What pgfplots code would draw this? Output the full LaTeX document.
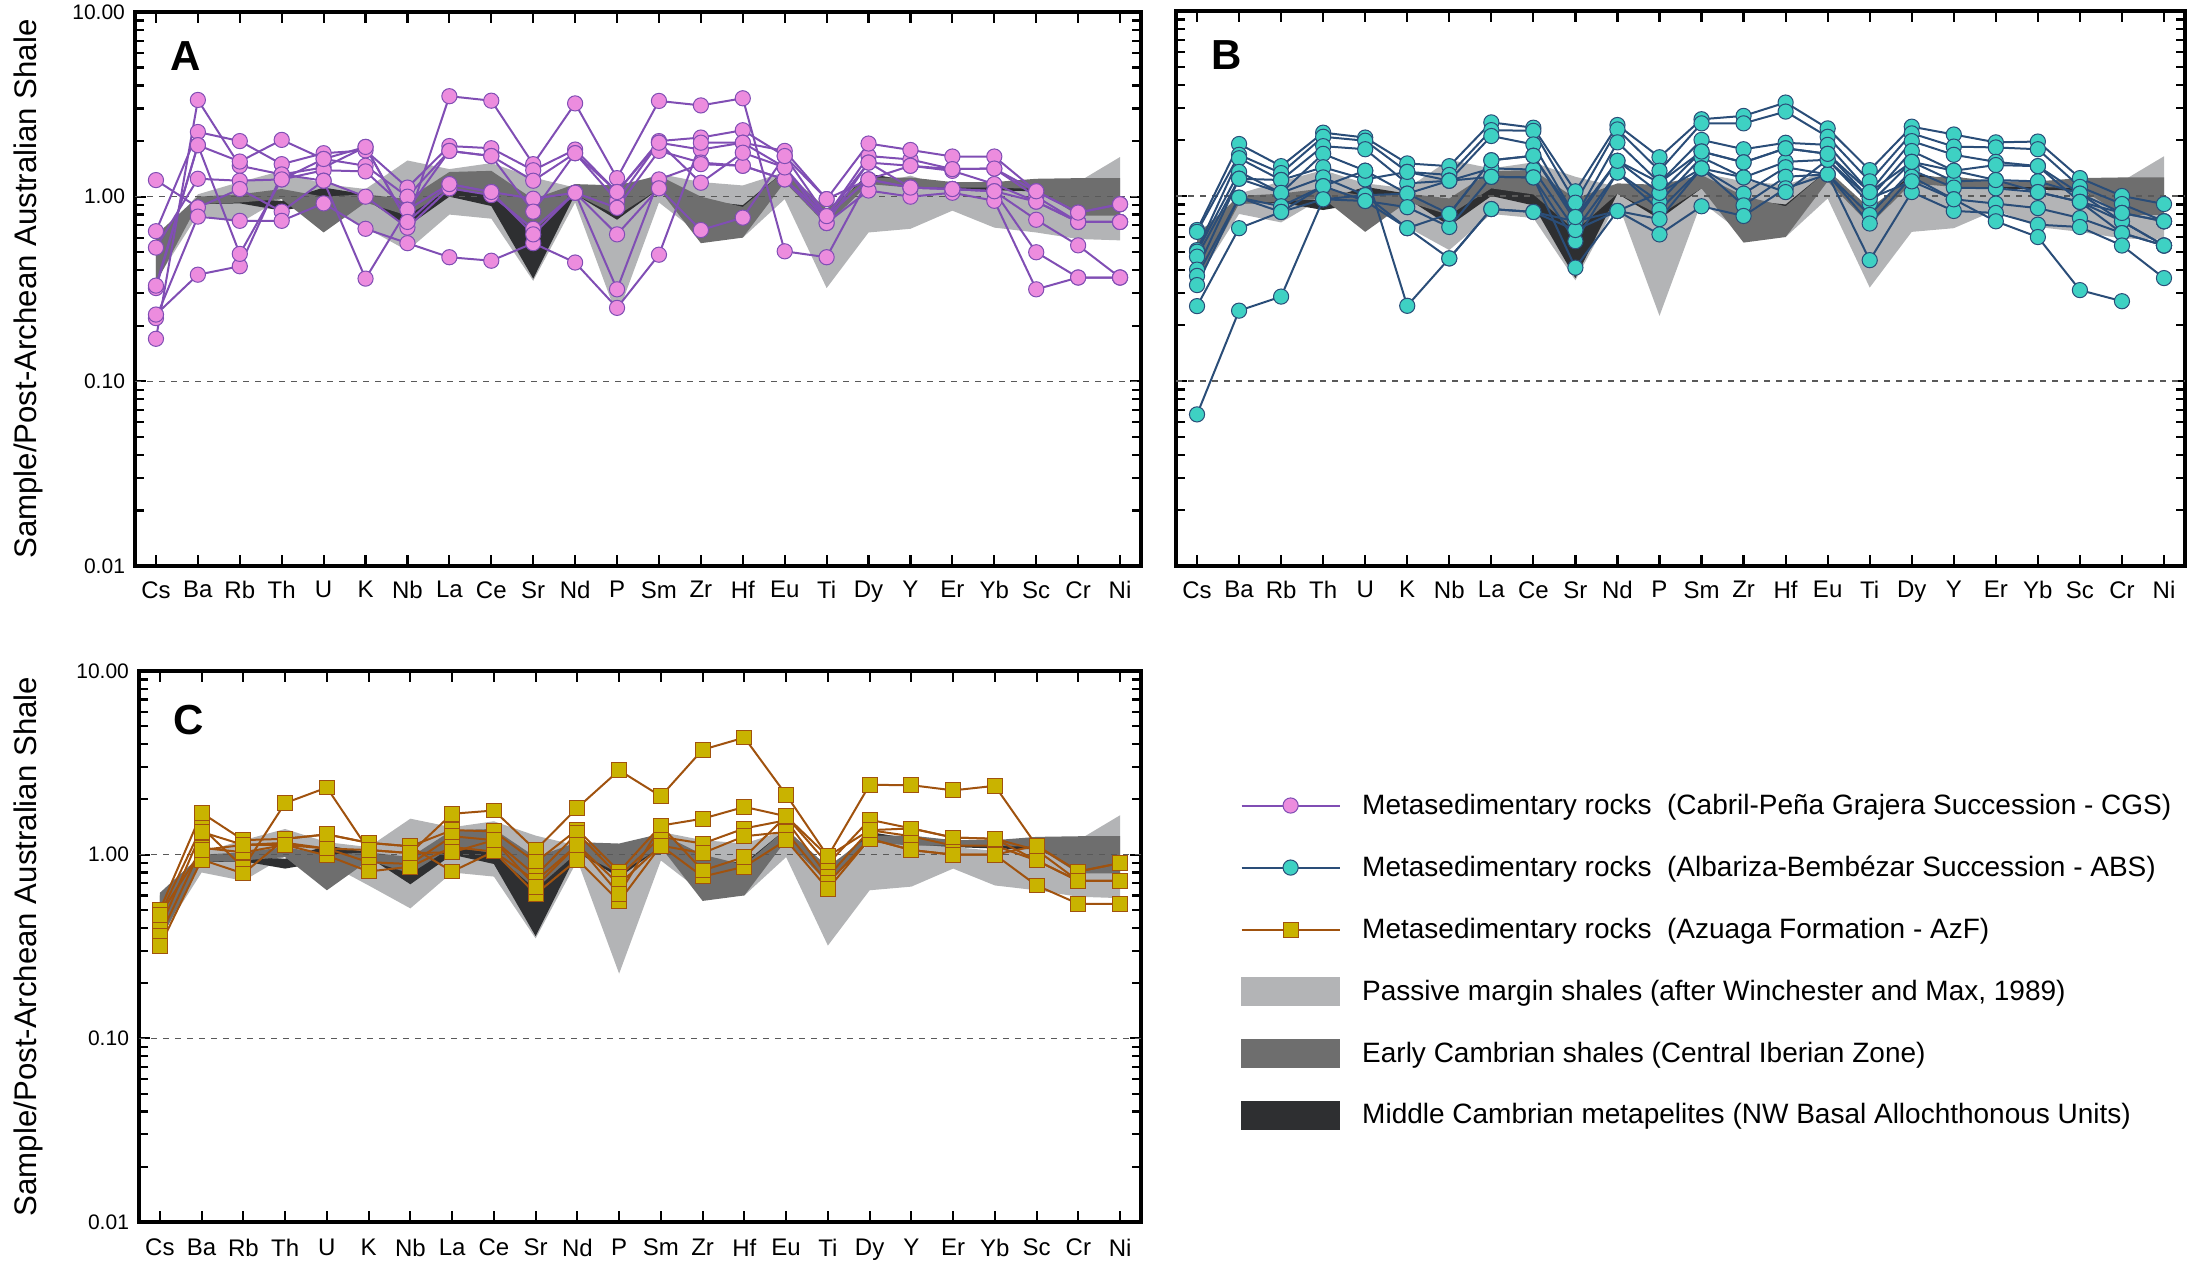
\documentclass[border=0pt]{standalone}
\usepackage{fontspec}
\setmainfont{Liberation Sans}
\usepackage{pgfplots}
\usepackage{pgfplotstable}
\pgfplotsset{compat=1.18}

\definecolor{cgsline}{HTML}{804EB4}
\definecolor{cgsfill}{HTML}{EC8CDE}
\definecolor{absline}{HTML}{2A4D78}
\definecolor{absfill}{HTML}{3ED1C3}
\definecolor{azfline}{HTML}{A0520E}
\definecolor{azffill}{HTML}{C9B300}
\definecolor{lgray}{HTML}{B3B4B6}
\definecolor{dgray}{HTML}{6E6E6E}
\definecolor{bband}{HTML}{2E2F31}

\pgfplotstableread{
x y
0 0.55
1 1.03
2 1.2
3 1.38
4 1.17
5 1.1
6 1.57
7 1.41
8 1.52
9 1.27
10 1.12
11 1.08
12 1.33
13 1.2
14 1.15
15 1.36
16 0.75
17 1.15
18 1.3
19 1.1
20 1.05
21 1.15
22 1.2
23 1.64
23 0.58
22 0.59
21 0.64
20 0.68
19 0.84
18 0.67
17 0.64
16 0.32
15 0.97
14 0.60
13 0.62
12 0.93
11 0.225
10 0.93
9 0.35
8 0.76
7 0.80
6 0.51
5 0.68
4 0.9
3 0.98
2 0.72
1 0.80
0 0.35
}\lighttab

\pgfplotstableread{
x y
0 0.62
1 1.0
2 1.03
3 1.1
4 1.0
5 1.03
6 0.97
7 1.36
8 1.38
9 0.97
10 1.17
11 1.15
12 1.3
13 1.0
14 0.88
15 1.38
16 0.86
17 1.27
18 1.27
19 1.2
20 1.2
21 1.25
22 1.26
23 1.26
23 0.79
22 0.79
21 1.1
20 1.12
19 1.12
18 1.12
17 1.17
16 0.70
15 1.2
14 0.6
13 0.56
12 1.1
11 0.79
10 1.03
9 0.65
8 1.02
7 1.1
6 0.79
5 0.93
4 0.64
3 0.97
2 0.93
1 0.91
0 0.34
}\darktab

\pgfplotstableread{
x y
0 0.60
1 0.97
2 0.97
3 0.95
4 1.12
5 1.03
6 0.86
7 1.12
8 1.03
9 0.66
10 1.1
11 0.89
12 1.2
13 0.95
14 0.9
15 1.38
16 0.82
17 1.33
18 1.22
19 1.16
20 1.15
21 1.15
22 0.92
23 0.92
23 0.85
22 0.85
21 1.07
20 1.08
19 1.1
18 1.14
17 1.25
16 0.74
15 1.28
14 0.8
13 0.85
12 1.1
11 0.75
10 1.03
9 0.36
8 0.89
7 1.0
6 0.69
5 0.97
4 0.92
3 0.84
2 0.92
1 0.91
0 0.50
}\blacktab

\pgfplotstableread{
x a1 a2 a3 a4 a5 a6 a7 a8
0 0.17 0.65 0.32 0.53 1.23 0.22 0.23 0.33
1 3.34 2.24 1.9 1.25 0.875 0.78 0.378 1.9
2 1.47 2.0 1.55 1.22 1.1 0.74 0.42 0.49
3 1.32 1.5 2.03 1.24 0.83 0.74 1.32 1.24
4 1.44 1.72 1.6 1.39 1.22 0.92 1.22 1.6
5 1.86 1.78 1.47 1.37 1.0 0.67 0.36 1.86
6 0.73 1.12 1.0 0.85 0.68 0.56 0.85 0.73
7 3.5 1.88 1.77 1.17 1.11 0.47 1.77 1.17
8 3.31 1.83 1.66 1.06 1.02 0.45 1.66 1.06
9 1.5 1.39 1.22 0.975 0.67 0.56 0.83 0.625
10 3.2 1.8 1.72 1.05 1.05 0.44 1.72 1.05
11 1.26 1.06 0.95 0.87 0.315 0.25 1.06 0.625
12 3.3 2.0 1.96 1.77 1.24 0.485 1.96 1.11
13 3.12 2.09 1.8 1.53 1.5 1.96 1.19 0.66
14 3.41 2.29 1.96 1.47 1.47 1.96 1.73 0.77
15 0.506 1.66 1.44 1.24 1.24 1.77 1.44 1.66
16 0.47 0.785 0.72 0.785 0.72 0.97 0.785 0.97
17 1.24 1.66 1.53 1.24 1.08 1.94 1.53 1.24
18 1.12 1.59 1.47 1.12 1.0 1.79 1.12 1.47
19 1.1 1.41 1.38 1.1 1.05 1.65 1.1 1.41
20 1.07 1.42 1.17 1.07 0.95 1.65 1.07 1.42
21 0.5 1.0 0.94 0.75 0.315 1.07 0.94 1.07
22 0.365 0.73 0.73 0.545 0.365 0.82 0.73 0.82
23 0.365 0.73 0.73 0.365 0.365 0.91 0.73 0.91
}\tabA

\pgfplotstableread{
x b1 b2 b3 b4 b5 b6 b7 b8 b9 b10
0 0.655 0.64 0.51 0.5 0.47 0.40 0.37 0.33 0.254 0.066
1 1.91 1.67 1.6 1.35 1.24 1.24 0.98 0.98 0.67 0.24
2 1.45 1.33 1.22 1.04 1.22 1.04 0.88 0.82 0.82 0.286
3 2.2 2.09 1.86 1.69 1.43 1.26 1.13 0.96 1.13 0.96
4 2.07 1.99 1.79 1.37 1.23 1.01 0.94 1.01 1.37 0.94
5 1.5 1.35 1.17 1.03 1.35 1.03 0.87 0.67 0.255 0.67
6 1.45 1.3 1.21 0.80 1.21 1.21 0.68 0.46 0.46 0.80
7 2.5 2.27 2.11 1.56 1.41 1.27 1.27 0.85 0.85 1.56
8 2.34 2.25 1.9 1.65 1.39 1.26 1.26 0.82 0.82 1.65
9 1.06 0.92 0.77 0.73 0.655 0.57 0.41 0.73 0.655 0.77
10 2.42 2.29 1.95 1.55 1.34 1.34 0.83 0.83 0.83 1.55
11 1.62 1.37 1.18 1.04 0.93 0.84 0.75 0.62 1.04 1.18
12 2.6 2.47 2.01 1.74 1.62 1.41 1.41 0.88 1.41 1.74
13 2.71 2.47 1.79 1.52 1.26 1.03 0.89 0.78 1.26 1.52
14 3.2 2.86 1.94 1.81 1.53 1.43 1.27 1.1 1.05 1.81
15 2.32 2.09 1.89 1.69 1.57 1.31 1.31 1.31 1.57 1.69
16 1.38 1.2 1.05 0.97 0.91 0.79 0.71 0.45 0.97 1.05
17 2.37 2.18 1.98 1.75 1.53 1.38 1.27 1.05 1.2 1.53
18 2.15 1.85 1.67 1.37 1.2 1.11 0.96 0.83 0.96 1.37
19 1.95 1.83 1.53 1.47 1.22 1.1 0.91 0.81 0.73 1.22
20 1.97 1.79 1.45 1.45 1.2 1.05 0.86 0.7 0.6 1.05
21 1.25 1.12 1.03 0.93 1.03 0.93 0.76 0.68 0.31 0.93
22 1.0 0.905 0.81 0.73 0.73 0.63 0.63 0.54 0.27 0.81
23 0.905 0.73 0.73 0.54 0.54 0.54 0.54 0.36 nan 0.73
}\tabB

\pgfplotstableread{
x c1 c2 c3 c4 c5 c6
0 0.47 0.5 0.395 0.36 0.317 0.47
1 1.41 1.69 1.33 1.09 0.94 1.06
2 0.85 1.2 1.13 1.03 0.79 1.13
3 1.91 1.22 1.16 1.13 1.22 1.13
4 2.32 1.29 1.08 0.99 1.29 1.08
5 1.06 1.16 0.91 0.81 1.16 1.06
6 1.02 1.11 0.89 0.86 1.11 1.02
7 1.67 1.36 1.26 1.1 0.81 1.03
8 1.74 1.34 1.2 1.04 1.04 1.2
9 1.06 0.91 0.77 0.72 0.61 0.67
10 1.8 1.37 1.31 1.13 0.94 1.13
11 2.88 0.81 0.76 0.69 0.557 0.61
12 2.08 1.44 1.25 1.12 1.12 1.44
13 3.73 1.57 1.15 1.02 0.76 0.82
14 4.34 1.82 1.39 1.26 0.86 0.97
15 2.12 1.62 1.54 1.33 1.2 1.62
16 0.98 0.89 0.76 0.7 0.65 0.98
17 2.4 1.55 1.36 1.22 1.22 1.36
18 2.39 1.39 1.26 1.06 1.06 1.39
19 2.24 1.24 1.12 1.0 1.0 1.24
20 2.37 1.22 1.12 1.0 1.0 1.22
21 1.12 1.06 0.93 0.68 1.12 0.93
22 0.81 0.72 0.72 0.54 0.81 0.72
23 0.9 0.72 0.72 0.54 0.9 0.72
}\tabC

\pgfplotsset{
  every axis/.append style={
    scale only axis, ymode=log, ymin=0.01, ymax=10, xmin=-0.5, xmax=23.5,
    xtick={0,...,23},
    xticklabels={Cs,Ba,Rb,Th,U,K,Nb,La,Ce,Sr,Nd,P,Sm,Zr,Hf,Eu,Ti,Dy,Y,Er,Yb,Sc,Cr,Ni},
    ytick={0.01,0.1,1,10},
    minor ytick={0.02,0.03,0.04,0.05,0.06,0.07,0.08,0.09,0.2,0.3,0.4,0.5,0.6,0.7,0.8,0.9,2,3,4,5,6,7,8,9},
    tick align=inside, xtick pos=both, ytick pos=both,
    axis line style={line width=1.6pt},
    major tick style={line width=1.1pt, black},
    minor tick style={line width=1.1pt, black},
    major tick length=5.5pt, minor tick length=4.5pt,
    x tick label style={font=\fontsize{12}{14}\selectfont, yshift=-4.2pt},
    y tick label style={font=\fontsize{10.5}{12}\selectfont, xshift=-1.5pt},
  },
  mycgs/.style={color=cgsline, line width=1pt, mark=*, mark size=3.8pt,
    mark options={fill=cgsfill, draw=cgsline, line width=0.5pt, solid}},
  myabs/.style={color=absline, line width=1pt, mark=*, mark size=3.8pt,
    mark options={fill=absfill, draw=absline, line width=0.5pt, solid}},
  myazf/.style={color=azfline, line width=1pt, mark=square*, mark size=3.7pt,
    mark options={fill=azffill, draw=azfline, line width=0.5pt, solid}},
  cgsleg/.style={legend image code/.code={\draw[cgsline, line width=1pt, mark=*, mark size=3.8pt, mark options={fill=cgsfill, draw=cgsline, line width=0.5pt}, mark repeat=2, mark phase=2] plot coordinates {(0pt,0pt) (24.5pt,0pt) (49pt,0pt)};}},
  absleg/.style={legend image code/.code={\draw[absline, line width=1pt, mark=*, mark size=3.8pt, mark options={fill=absfill, draw=absline, line width=0.5pt}, mark repeat=2, mark phase=2] plot coordinates {(0pt,0pt) (24.5pt,0pt) (49pt,0pt)};}},
  azfleg/.style={legend image code/.code={\draw[azfline, line width=1pt, mark=square*, mark size=3.7pt, mark options={fill=azffill, draw=azfline, line width=0.5pt}, mark repeat=2, mark phase=2] plot coordinates {(0pt,0pt) (24.5pt,0pt) (49pt,0pt)};}},
  lgleg/.style={legend image code/.code={\fill[lgray] (0pt,-7pt) rectangle (49pt,7pt);}},
  dgleg/.style={legend image code/.code={\fill[dgray] (0pt,-7pt) rectangle (49pt,7pt);}},
  bbleg/.style={legend image code/.code={\fill[bband] (0pt,-7pt) rectangle (49pt,7pt);}},
}

\begin{document}
\begin{tikzpicture}
\path[use as bounding box] (0,0) rectangle (1097pt,-631.5pt);

% Panel A
\begin{axis}[at={(67.5pt,-6pt)}, anchor=north west, width=503pt, height=277pt,
  yticklabels={0.01,0.10,1.00,10.00},
  ylabel={Sample/Post-Archean Australian Shale},
  ylabel style={at={(rel axis cs:0,0.5)}, anchor=center, yshift=53.5pt, font=\fontsize{15.6}{18}\selectfont}]
\addplot[fill=lgray, draw=none, forget plot] table[x=x,y=y] {\lighttab} -- cycle;
\addplot[fill=bband, draw=none, forget plot] table[x=x,y=y] {\blacktab} -- cycle;
\addplot[fill=dgray, draw=none, forget plot] table[x=x,y=y] {\darktab} -- cycle;
\addplot[forget plot, color=black!65, line width=0.6pt, dash pattern=on 3pt off 3pt] coordinates {(-0.5,1) (23.5,1)};
\addplot[forget plot, color=black!65, line width=0.6pt, dash pattern=on 3pt off 3pt] coordinates {(-0.5,0.1) (23.5,0.1)};
\addplot[mycgs, forget plot] table[x=x,y=a1] {\tabA};
\addplot[mycgs, forget plot] table[x=x,y=a2] {\tabA};
\addplot[mycgs, forget plot] table[x=x,y=a3] {\tabA};
\addplot[mycgs, forget plot] table[x=x,y=a4] {\tabA};
\addplot[mycgs, forget plot] table[x=x,y=a5] {\tabA};
\addplot[mycgs, forget plot] table[x=x,y=a6] {\tabA};
\addplot[mycgs, forget plot] table[x=x,y=a7] {\tabA};
\addplot[mycgs, forget plot] table[x=x,y=a8] {\tabA};
\node[font=\bfseries\fontsize{21}{24}\selectfont] at (rel axis cs:0.05,0.921) {A};
\end{axis}

% Panel B
\begin{axis}[at={(588pt,-5.5pt)}, anchor=north west, width=504.5pt, height=277.5pt,
  yticklabels={}]
\addplot[fill=lgray, draw=none, forget plot] table[x=x,y=y] {\lighttab} -- cycle;
\addplot[fill=bband, draw=none, forget plot] table[x=x,y=y] {\blacktab} -- cycle;
\addplot[fill=dgray, draw=none, forget plot] table[x=x,y=y] {\darktab} -- cycle;
\addplot[forget plot, color=black!65, line width=0.6pt, dash pattern=on 3pt off 3pt] coordinates {(-0.5,1) (23.5,1)};
\addplot[forget plot, color=black!65, line width=0.6pt, dash pattern=on 3pt off 3pt] coordinates {(-0.5,0.1) (23.5,0.1)};
\addplot[myabs, forget plot] table[x=x,y=b1] {\tabB};
\addplot[myabs, forget plot] table[x=x,y=b2] {\tabB};
\addplot[myabs, forget plot] table[x=x,y=b3] {\tabB};
\addplot[myabs, forget plot] table[x=x,y=b4] {\tabB};
\addplot[myabs, forget plot] table[x=x,y=b5] {\tabB};
\addplot[myabs, forget plot] table[x=x,y=b6] {\tabB};
\addplot[myabs, forget plot] table[x=x,y=b7] {\tabB};
\addplot[myabs, forget plot] table[x=x,y=b8] {\tabB};
\addplot[myabs, forget plot] table[x=x,y=b9] {\tabB};
\addplot[myabs, forget plot] table[x=x,y=b10] {\tabB};
\node[font=\bfseries\fontsize{21}{24}\selectfont] at (rel axis cs:0.05,0.921) {B};
\end{axis}

% Panel C
\begin{axis}[at={(69.5pt,-335.5pt)}, anchor=north west, width=501pt, height=275.5pt,
  yticklabels={0.01,0.10,1.00,10.00},
  x tick label style={yshift=-0.6pt},
  ylabel={Sample/Post-Archean Australian Shale},
  ylabel style={at={(rel axis cs:0,0.5)}, anchor=center, yshift=55.5pt, font=\fontsize{15.6}{18}\selectfont},
  legend cell align=left,
  legend style={at={(rel axis cs:1.099,0.785)}, anchor=north west, draw=none, fill=none,
    inner sep=0pt, row sep=15.3pt, font=\fontsize{14}{16}\selectfont,
    /tikz/every odd column/.append style={column sep=8.8pt}}]
\addplot[fill=lgray, draw=none, forget plot] table[x=x,y=y] {\lighttab} -- cycle;
\addplot[fill=bband, draw=none, forget plot] table[x=x,y=y] {\blacktab} -- cycle;
\addplot[fill=dgray, draw=none, forget plot] table[x=x,y=y] {\darktab} -- cycle;
\addplot[forget plot, color=black!65, line width=0.6pt, dash pattern=on 3pt off 3pt] coordinates {(-0.5,1) (23.5,1)};
\addplot[forget plot, color=black!65, line width=0.6pt, dash pattern=on 3pt off 3pt] coordinates {(-0.5,0.1) (23.5,0.1)};
\addplot[myazf, forget plot] table[x=x,y=c1] {\tabC};
\addplot[myazf, forget plot] table[x=x,y=c2] {\tabC};
\addplot[myazf, forget plot] table[x=x,y=c3] {\tabC};
\addplot[myazf, forget plot] table[x=x,y=c4] {\tabC};
\addplot[myazf, forget plot] table[x=x,y=c5] {\tabC};
\addplot[myazf, forget plot] table[x=x,y=c6] {\tabC};
\node[font=\bfseries\fontsize{21}{24}\selectfont] at (rel axis cs:0.05,0.911) {C};
\addlegendimage{cgsleg}
\addlegendentry{Metasedimentary rocks\ \ (Cabril-Peña Grajera Succession - CGS)}
\addlegendimage{absleg}
\addlegendentry{Metasedimentary rocks\ \ (Albariza-Bembézar Succession - ABS)}
\addlegendimage{azfleg}
\addlegendentry{Metasedimentary rocks\ \ (Azuaga Formation - AzF)}
\addlegendimage{lgleg}
\addlegendentry{Passive margin shales (after Winchester and Max, 1989)}
\addlegendimage{dgleg}
\addlegendentry{Early Cambrian shales (Central Iberian Zone)}
\addlegendimage{bbleg}
\addlegendentry{Middle Cambrian metapelites (NW Basal Allochthonous Units)}
\end{axis}
\end{tikzpicture}
\end{document}
